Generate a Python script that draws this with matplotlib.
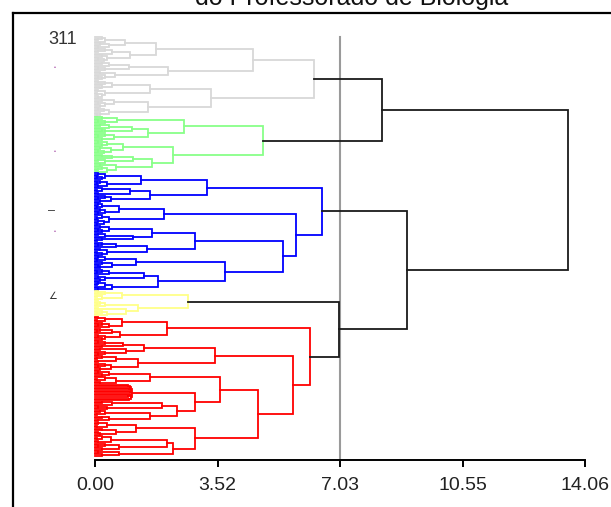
import numpy as np
import matplotlib
matplotlib.use('Agg')
import matplotlib.pyplot as plt
from matplotlib.lines import Line2D

plt.rcParams['font.family'] = ['Liberation Sans', 'DejaVu Sans']

# merge height between each pair of neighbouring leaves, per cluster
# (the tree is rebuilt by splitting at the largest gap)
gray_gaps = [
    0.2, 0.1, 0.3, 0.86, 0.15, 0.4, 0.1,
    1.76,
    0.3, 0.1, 0.5, 1.0, 0.2, 0.35, 0.1, 0.25,
    4.52,
    0.2, 0.4, 0.97, 0.1, 0.3,
    2.1,
    0.15, 0.58, 0.3, 0.1, 0.2,
    6.28,
    0.1, 0.3, 0.5, 0.2, 0.15,
    1.58,
    0.1, 0.3, 0.05, 0.2, 0.1,
    3.34,
    0.2, 0.55, 0.1, 0.3, 0.15,
    1.53,
    0.1, 0.25, 0.4, 0.15, 0.05,
]
green_gaps = [
    0.2, 0.63, 0.1, 0.3,
    2.54,
    0.15, 0.4, 1.07, 0.2, 0.3,
    1.53,
    0.3, 0.1, 0.55, 0.2,
    4.81,
    0.1, 0.35, 0.2, 0.8, 0.15, 0.45, 0.1, 0.25,
    2.25,
    0.2, 0.5, 1.1, 0.1, 0.3,
    1.64,
    0.15, 0.6, 0.2, 0.1, 0.35,
]
blue_gaps = [
    0.1, 0.3, 0.05, 0.2, 1.33, 0.15, 0.05, 0.35, 0.1,
    3.2,
    0.2, 0.05, 1.0, 0.1, 1.59, 0.3, 0.1, 0.45, 0.15,
    6.51,
    0.1, 0.2, 0.05, 0.7, 0.15, 0.3, 0.1, 1.99, 0.2, 0.05, 0.4, 0.1, 0.25, 0.05,
    5.76,
    0.15, 0.4, 0.1, 0.2, 1.64, 0.1, 0.3, 1.1, 0.2, 0.05,
    2.88,
    0.2, 0.1, 0.6, 1.5, 0.15, 0.35, 0.05, 0.2,
    5.39,
    0.1, 0.3, 0.05, 1.18, 0.2, 0.5, 0.1, 0.15,
    3.72,
    0.2, 0.05, 0.4, 1.4, 0.1, 0.3, 0.15, 1.82, 0.1, 0.05, 0.3, 0.5, 0.1,
]
yellow_gaps = [
    0.1, 0.3, 0.78, 0.05, 0.2, 0.1,
    2.68,
    0.15, 0.05, 0.3, 1.24, 0.1, 0.88, 0.2, 0.05, 0.35,
]
red_gaps = [
    0.1, 0.3, 0.05, 0.78, 0.2, 0.1, 0.4,
    2.08,
    0.15, 0.05, 0.5, 0.72, 0.1, 0.3, 0.2,
    6.17,
    0.1, 0.3, 0.81, 0.2, 1.41, 0.15, 0.9, 0.3, 0.1,
    3.43,
    0.2, 0.05, 0.6, 0.1, 1.22, 0.3, 0.1, 0.45, 0.15,
    5.68,
    0.1, 0.4, 0.2, 1.59, 0.3, 0.05, 0.6, 0.15,
    3.58,
    0.95, 1.0, 0.97, 1.03, 0.99, 1.06, 1.01, 0.96, 1.02, 0.98,
    2.86,
    0.2, 0.5, 1.93, 0.1, 0.35,
    2.36,
    0.15, 0.3, 0.05, 1.59, 0.2, 0.4, 0.1,
    4.67,
    0.1, 0.35, 0.05, 1.18, 0.2, 0.6, 0.1, 0.15,
    2.88,
    0.2, 0.05, 0.45, 0.1, 2.07, 0.3, 0.1, 0.7, 0.2,
    2.25,
    0.1, 0.7, 0.2,
]
cluster_gaps = [gray_gaps, green_gaps, blue_gaps, yellow_gaps, red_gaps]
cluster_colors = ['#d8d8d8', '#88ff88', '#0000ff', '#ffff88', '#ff0000']
top_gaps = [8.24, 13.57, 8.96, 7.0]   # gray|green|blue|yellow|red

cut_level = 7.03
tick_vals = [0.0, 3.52, 7.03, 10.55, 14.06]
tick_labels = ['0.00', '3.52', '7.03', '10.55', '14.06']

W, H = 611, 507
fig = plt.figure(figsize=(W / 100, H / 100), dpi=100)

ax_top, ax_bot = 30, 460
ax = fig.add_axes([95 / W, (H - ax_bot) / H, 490 / W, (ax_bot - ax_top) / H])


def draw_tree(items, gaps, color):
    if len(items) == 1:
        return items[0]
    k = int(np.argmax(gaps))
    y1, h1 = draw_tree(items[:k + 1], gaps[:k], color)
    y2, h2 = draw_tree(items[k + 1:], gaps[k + 1:], color)
    h = gaps[k]
    ax.plot([h1, h, h, h2], [y1, y1, y2, y2], color=color, lw=1.3,
            solid_joinstyle='miter', clip_on=False, zorder=3)
    return ((y1 + y2) / 2.0, h)


roots = []
start = 0
for gaps, col in zip(cluster_gaps, cluster_colors):
    n = len(gaps) + 1
    leaves = [(float(start + i), 0.0) for i in range(n)]
    roots.append(draw_tree(leaves, gaps, col))
    start += n
n_leaves = start
draw_tree(roots, top_gaps, '#1a1a1a')

# leaf 0 at y=37 px, last leaf at y=456 px
s = (456 - 37) / (n_leaves - 1)
y_top = -(37 - ax_top) / s
y_bot = (n_leaves - 1) + (ax_bot - 456) / s
ax.set_ylim(y_bot, y_top)
ax.set_xlim(0, tick_vals[-1])

ax.plot([cut_level, cut_level], [0, y_bot], color='#9a9a9a', lw=1.5,
        clip_on=False, zorder=2)

for side in ['top', 'right', 'left']:
    ax.spines[side].set_visible(False)
ax.spines['bottom'].set_linewidth(1.4)
ax.set_yticks([])
ax.set_xticks(tick_vals)
ax.set_xticklabels(tick_labels, fontsize=14, color='#222222')
ax.tick_params(axis='x', direction='out', length=5, width=1.4, pad=7)


def fx(px):
    return px / W


def fy(py):
    return 1 - py / H


# frame and title (cut off at the top edge, as in the source)
fig.add_artist(Line2D([fx(13), 1], [fy(13), fy(13)], color='black', lw=1.6))
fig.add_artist(Line2D([fx(13), fx(13)], [fy(13), 0], color='black', lw=1.6))
fig.text(fx(352), fy(5), 'do Professorado de Biologia', ha='center',
         va='baseline', fontsize=18, color='#111111')

# leftover leaf label marks
fig.text(fx(48), fy(39), '311', ha='left', va='center', fontsize=13, color='#333333')
for py in [68, 152, 232]:
    fig.text(fx(55), fy(py), '\u2022', ha='center', va='center', fontsize=4, color='#a040a0')
fig.text(fx(52), fy(211), '\u2013', ha='center', va='center', fontsize=9, color='#333333')
fig.text(fx(53), fy(296), '\u2220', ha='center', va='center', fontsize=7, color='#333333')

fig.savefig('out.png', dpi=100)
